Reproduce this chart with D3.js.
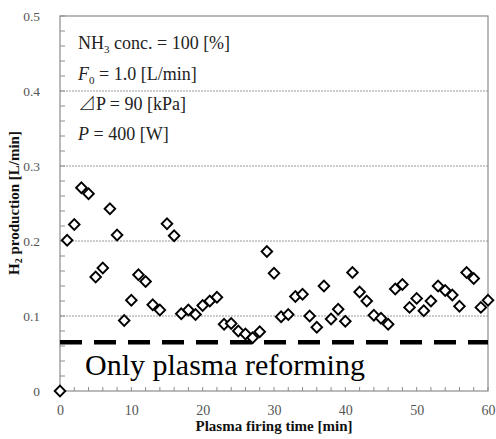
<!DOCTYPE html>
<html><head><meta charset="utf-8">
<script src="https://cdn.jsdelivr.net/npm/d3@7"></script>
<style>body{margin:0;background:#fff}svg{display:block}</style>
</head><body>
<svg id="chart" width="496" height="439"></svg>
<script>
const times = d3.range(0, 61);
const h2Production = [0, 0.201, 0.222, 0.271, 0.263, 0.152, 0.164, 0.243, 0.208, 0.094,
  0.121, 0.155, 0.146, 0.115, 0.108, 0.223, 0.207, 0.103, 0.108, 0.102,
  0.114, 0.120, 0.125, 0.089, 0.090, 0.080, 0.076, 0.071, 0.079, 0.186,
  0.157, 0.099, 0.102, 0.126, 0.129, 0.100, 0.085, 0.140, 0.096, 0.109,
  0.093, 0.158, 0.132, 0.120, 0.101, 0.097, 0.089, 0.136, 0.142, 0.1115,
  0.1235, 0.107, 0.120, 0.140, 0.134, 0.128, 0.113, 0.158, 0.150, 0.1115, 0.121];
const plasmaOnly = 0.065;
const xTicks = [0, 10, 20, 30, 40, 50, 60];
const yTicks = [0, 0.1, 0.2, 0.3, 0.4, 0.5];
const yTickLabels = ["0", "0.1", "0.2", "0.3", "0.4", "0.5"];

const svg = d3.select("#chart");
const m = {left: 60, right: 8, top: 16, bottom: 48};
const W = 496, H = 439;
const x = d3.scaleLinear().domain([0, 60]).range([m.left, W - m.right]);
const y = d3.scaleLinear().domain([0, 0.5]).range([H - m.bottom, m.top]);
const gray = "#8c8c8c";
const SERIF = '"Liberation Serif"';

// gridlines
svg.append("g").selectAll("line").data([0.1, 0.2, 0.3, 0.4]).join("line")
  .attr("x1", x(0)).attr("x2", x(60))
  .attr("y1", d => y(d)).attr("y2", d => y(d))
  .attr("stroke", "#999").attr("stroke-width", 1).attr("stroke-dasharray", "2,1");

// frame
svg.append("rect").attr("x", x(0)).attr("y", y(0.5))
  .attr("width", x(60) - x(0)).attr("height", y(0) - y(0.5))
  .attr("fill", "none").attr("stroke", gray).attr("stroke-width", 1.2);

// y axis
const yAxis = d3.axisLeft(y).tickValues(yTicks).tickFormat((d, i) => yTickLabels[i]).tickSize(0).tickPadding(20);
const gy = svg.append("g").attr("transform", `translate(${x(0)},0)`).call(yAxis);
gy.select(".domain").remove();
gy.selectAll("text").style("font-family", SERIF).style("font-size", "13.5px").attr("fill", "#555");
svg.append("g").selectAll("line").data(d3.range(0, 0.5001, 0.02)).join("line")
  .attr("x1", x(0)).attr("x2", x(0) + 5)
  .attr("y1", d => y(d)).attr("y2", d => y(d))
  .attr("stroke", gray).attr("stroke-width", 1);

// x axis
const xAxis = d3.axisBottom(x).tickValues(xTicks).tickSize(0).tickPadding(14);
const gx = svg.append("g").attr("transform", `translate(0,${y(0)})`).call(xAxis);
gx.select(".domain").remove();
gx.selectAll("text").style("font-family", SERIF).style("font-size", "14px").attr("fill", "#555");
svg.append("g").selectAll("line").data(d3.range(0, 61, 2)).join("line")
  .attr("x1", d => x(d)).attr("x2", d => x(d))
  .attr("y1", y(0)).attr("y2", y(0) - 4)
  .attr("stroke", gray).attr("stroke-width", 1);

// dashed reference line
svg.append("line").attr("x1", x(0)).attr("x2", x(60))
  .attr("y1", y(plasmaOnly)).attr("y2", y(plasmaOnly))
  .attr("stroke", "#000").attr("stroke-width", 4.5).attr("stroke-dasharray", "22,12");

svg.append("text").attr("x", 85).attr("y", 375)
  .style("font-family", SERIF).style("font-size", "30px").attr("fill", "#000")
  .text("Only plasma reforming");

// points
const s = 5.3;
svg.append("g").selectAll("path").data(times).join("path")
  .attr("d", (d, i) => {
    const cx = x(d), cy = y(h2Production[i]);
    return `M${cx},${cy - s}L${cx + s},${cy}L${cx},${cy + s}L${cx - s},${cy}Z`;
  })
  .attr("fill", "#fff").attr("stroke", "#000").attr("stroke-width", 1.9);

// annotations
const ann = svg.append("g").attr("fill", "#222");
function txt(yy) {
  return ann.append("text").attr("x", 78).attr("y", yy)
    .style("font-family", SERIF).style("font-size", "18px");
}
let t = txt(49);
t.append("tspan").text("NH");
t.append("tspan").style("font-size", "11px").attr("dy", 4).text("3");
t.append("tspan").attr("dy", -4).text(" conc. = 100 [%]");
t = txt(80);
t.append("tspan").style("font-style", "italic").text("F");
t.append("tspan").style("font-size", "11px").attr("dy", 4).text("0");
t.append("tspan").attr("dy", -4).text(" = 1.0 [L/min]");
t = txt(110);
t.append("tspan").style("font-family", '"Noto Sans CJK JP"').style("font-weight", 300).text("⊿");
t.append("tspan").text("P = 90 [kPa]");
t = txt(140);
t.append("tspan").style("font-style", "italic").text("P");
t.append("tspan").text(" = 400 [W]");

// axis titles
svg.append("text").attr("x", (x(0) + x(60)) / 2).attr("y", 431)
  .attr("text-anchor", "middle").style("font-family", SERIF).style("font-weight", "bold")
  .style("font-size", "15px").attr("fill", "#111").text("Plasma firing time [min]");
const yt = svg.append("text").attr("transform", "translate(19,203) rotate(-90)")
  .attr("text-anchor", "middle").style("font-family", SERIF).style("font-weight", "bold")
  .style("font-size", "15px").attr("fill", "#111");
yt.append("tspan").text("H");
yt.append("tspan").style("font-size", "10px").attr("dy", 3).text("2");
yt.append("tspan").attr("dy", -3).text(" production [L/min]");
</script>
</body></html>
